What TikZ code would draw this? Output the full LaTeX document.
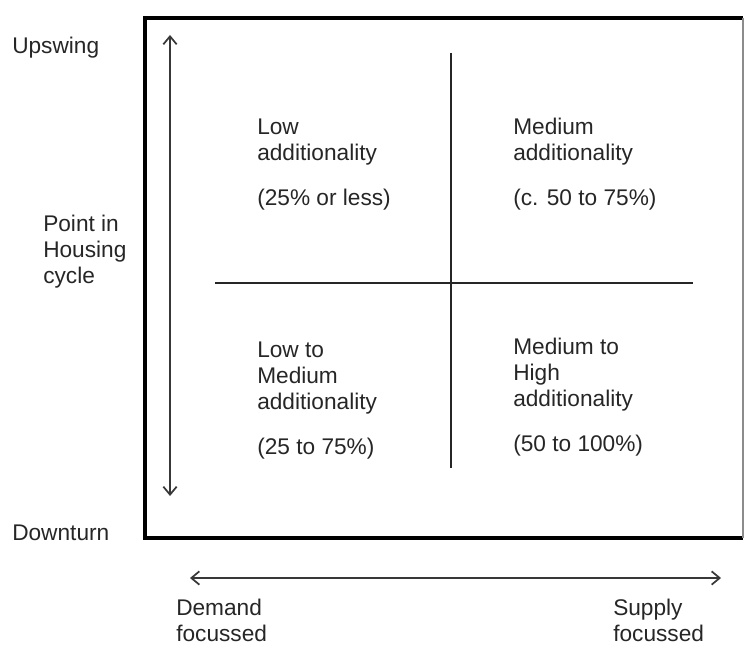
\documentclass[tikz,border=0pt]{standalone}
\usepackage{fontspec}
\setmainfont{Liberation Sans}
\usetikzlibrary{arrows.meta}
\definecolor{cyclegrey}{rgb}{0.22, 0.22, 0.22}
\definecolor{edgegrey}{rgb}{0.55, 0.55, 0.55}

\begin{document}
\begin{tikzpicture}[x=0.75pt, y=-0.75pt,
        label/.style={anchor=north west, inner sep=0pt, align=left, text=black!85,
            font=\fontsize{17}{19.5}\selectfont},
        frame/.style={line width=3.5pt, line join=miter},
        cross/.style={line width=1.5pt, color=black!85},
        axis/.style={line width=1.3pt, color=cyclegrey,
            {Straight Barb[length=6pt, width=10pt]}-{Straight Barb[length=6pt, width=10pt]}}]
    \useasboundingbox (0, 0) rectangle (745, 648);
    \begin{scope}
        % outer frame
        \coordinate (Fnw) at (145, 18);
        \coordinate (Fne) at (743, 18);
        \coordinate (Fsw) at (145, 538);
        \coordinate (Fse) at (743, 538);
        \draw [frame] (Fne) -- (Fnw) -- (Fsw) -- (Fse);
        \draw [line width=1.2pt, color=edgegrey] (Fne) -- (Fse);

        % the two dividing lines
        \coordinate (Vtop) at (451, 53);
        \coordinate (Vbot) at (451, 468);
        \coordinate (Hleft) at (215, 283);
        \coordinate (Hright) at (693, 283);
        \draw [cross] (Vtop) -- (Vbot);
        \draw [cross] (Hleft) -- (Hright);

        % axes
        \coordinate (Aup) at (170, 35);
        \coordinate (Adown) at (170, 496);
        \coordinate (Aleft) at (190, 578);
        \coordinate (Aright) at (721, 578);
        \draw [axis] (Adown) -- (Aup);
        \draw [axis] (Aleft) -- (Aright);

        % axis labels
        \node [label] (Lup) at (12, 37) {Upswing};
        \node [label] (Lcycle) at (43, 215) {Point in\\Housing\\cycle};
        \node [label] (Ldown) at (12, 525) {Downturn};
        \node [label] (Ldemand) at (176, 599) {Demand\\focussed};
        \node [label] (Lsupply) at (613, 599) {Supply\\focussed};

        % quadrants
        \node [label] (Qa) at (257, 119) {Low\\additionality\\[14pt](25\% or less)};
        \node [label] (Qb) at (513, 118) {Medium\\additionality\\[14pt](c. 50 to 75\%)};
        \node [label] (Qc) at (257, 342) {Low to\\Medium\\additionality\\[14pt](25 to 75\%)};
        \node [label] (Qd) at (513, 338) {Medium to\\High\\additionality\\[14pt](50 to 100\%)};
    \end{scope}
\end{tikzpicture}
\end{document}
